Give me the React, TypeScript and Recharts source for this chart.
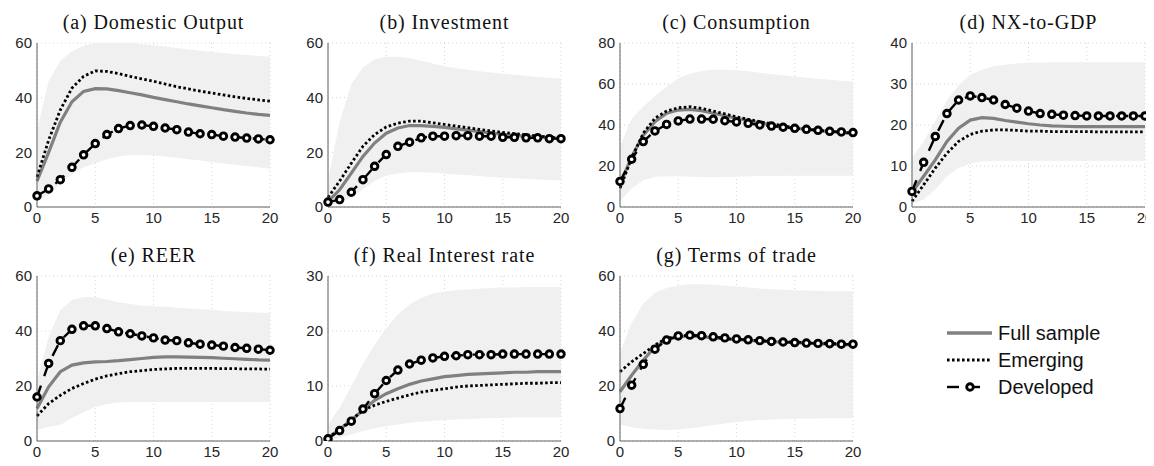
import React from 'react';
import { ComposedChart, Area, Line, XAxis, YAxis, CartesianGrid } from 'recharts';

// horizon 0..20 quarters
const horizon = [0, 1, 2, 3, 4, 5, 6, 7, 8, 9, 10, 11, 12, 13, 14, 15, 16, 17, 18, 19, 20];
const xTicks = [0, 5, 10, 15, 20];

// (a) Domestic Output
const outputFull = [9.5, 20, 31, 38.5, 42.3, 43.3, 43.2, 42.6, 41.8, 41, 40.1, 39.3, 38.5, 37.7, 37, 36.3, 35.6, 35, 34.4, 33.9, 33.5];
const outputEmerging = [11, 24.5, 35.5, 43.5, 47.8, 49.8, 49.6, 48.8, 47.8, 46.9, 46, 45, 44, 43.2, 42.4, 41.7, 41, 40.3, 39.7, 39.2, 38.7];
const outputDeveloped = [4.1, 6.6, 10, 14.5, 19.1, 23.2, 26.5, 28.7, 29.8, 30, 29.5, 28.9, 28.3, 27.4, 26.8, 26.5, 25.9, 25.6, 25.2, 24.9, 24.6];
const outputLow = [2, 4.5, 8.5, 12, 14.5, 16, 17.5, 18.5, 19, 19, 18.8, 18.5, 18, 17.5, 17, 16.5, 16, 15.5, 15, 14.5, 14];
const outputHigh = [28, 46, 53.5, 57, 59, 60, 60.3, 60.3, 60, 59.6, 59.2, 58.7, 58.2, 57.7, 57.2, 56.7, 56.3, 55.9, 55.6, 55.3, 55];

// (b) Investment
const invFull = [2, 6.3, 12.4, 18.5, 23.4, 27, 28.9, 29.8, 29.8, 29.5, 29.1, 28.6, 28.1, 27.6, 27.1, 26.6, 26.2, 25.9, 25.6, 25.3, 25];
const invEmerging = [3.5, 9.5, 16, 22.2, 26.5, 29.3, 30.7, 31.4, 31.4, 30.8, 30.2, 29.6, 29, 28.4, 27.8, 27.3, 26.8, 26.4, 26, 25.6, 25.3];
const invDeveloped = [1.8, 2.7, 5.4, 10, 14.9, 19.2, 22.2, 23.7, 25.3, 25.9, 25.9, 26.1, 26.1, 25.9, 25.9, 25.5, 25.5, 25.3, 25.3, 25, 25];
const invLow = [0.5, 1.5, 3.5, 6.5, 9.5, 11.5, 12.3, 12.7, 12.7, 12.5, 12.2, 11.9, 11.6, 11.3, 11, 10.7, 10.5, 10.3, 10.1, 9.9, 9.7];
const invHigh = [10, 31, 45, 51, 54, 55, 55, 54.5, 53.5, 52.5, 51.5, 50.8, 50.2, 49.7, 49.2, 48.8, 48.4, 48, 47.6, 47.3, 47];

// (c) Consumption
const consFull = [10.9, 24.6, 35, 41.6, 45.7, 47.3, 47.6, 47, 45.7, 44.5, 43.3, 42.2, 41.1, 40.2, 39.3, 38.4, 37.8, 37.3, 36.8, 36.4, 36];
const consEmerging = [9.2, 23.8, 36, 43.3, 46.8, 48.4, 48.9, 48.1, 46.8, 45.4, 44, 42.8, 41.6, 40.6, 39.6, 38.7, 38, 37.4, 36.9, 36.4, 36];
const consDeveloped = [12.5, 23.3, 31.9, 37.1, 40.3, 42, 42.9, 42.9, 42.8, 42.1, 41.5, 40.8, 40, 39.5, 38.9, 38.4, 37.9, 37.4, 36.9, 36.6, 36.3];
const consLow = [2.8, 9, 13, 14.8, 15, 15, 14.8, 14.6, 14.5, 14.6, 14.8, 15, 15.1, 15.1, 15.2, 15.2, 15.2, 15.2, 15.2, 15.2, 15.2];
const consHigh = [29.5, 43, 49, 54, 58.6, 62.7, 65, 66.4, 67, 67, 66.7, 66.2, 65.5, 64.9, 64.3, 63.7, 63.1, 62.6, 62.1, 61.6, 61.2];

// (d) NX-to-GDP
const nxFull = [3.6, 7.5, 11.5, 16, 19.2, 21.2, 21.8, 21.6, 21.1, 20.7, 20.3, 20, 19.8, 19.7, 19.6, 19.6, 19.6, 19.6, 19.6, 19.6, 19.6];
const nxEmerging = [1.4, 5.4, 9.5, 13.1, 16, 17.7, 18.5, 18.8, 18.8, 18.7, 18.5, 18.5, 18.4, 18.4, 18.4, 18.4, 18.3, 18.3, 18.3, 18.3, 18.3];
const nxDeveloped = [3.8, 10.9, 17.2, 22.8, 26.1, 27.1, 26.7, 26.1, 25, 24.1, 23.4, 22.8, 22.6, 22.4, 22.3, 22.2, 22.2, 22.2, 22.2, 22.2, 22.2];
const nxLow = [0.8, 1.8, 4.2, 7.5, 9.5, 10.7, 11.1, 11.2, 11.2, 11.2, 11.2, 11.2, 11.2, 11.2, 11.2, 11.2, 11.2, 11.2, 11.2, 11.2, 11.2];
const nxHigh = [12, 16, 21, 26, 29.7, 32.2, 33.5, 34.3, 34.7, 35, 35.2, 35.2, 35.3, 35.3, 35.3, 35.3, 35.3, 35.3, 35.3, 35.3, 35.3];

// (e) REER
const reerFull = [11.8, 19.7, 25.2, 27.6, 28.4, 28.8, 28.9, 29.2, 29.6, 30, 30.4, 30.6, 30.6, 30.5, 30.4, 30.3, 30.1, 29.9, 29.7, 29.5, 29.4];
const reerEmerging = [9.1, 13.6, 16.6, 19.1, 20.9, 22.5, 23.7, 24.5, 25.2, 25.6, 26, 26.2, 26.4, 26.4, 26.4, 26.4, 26.3, 26.3, 26.2, 26.2, 26.1];
const reerDeveloped = [16, 28.2, 36.5, 40.6, 41.9, 41.9, 40.9, 39.7, 39, 38.2, 37.5, 36.7, 36.5, 35.7, 35.2, 34.9, 34.5, 34, 33.7, 33.4, 33];
const reerLow = [4, 5.2, 5.8, 8.4, 10.5, 12.4, 13.5, 14, 14.2, 14.2, 14.2, 14.2, 14.2, 14.2, 14.2, 14.2, 14.2, 14.2, 14.2, 14.2, 14.2];
const reerHigh = [22, 37.8, 47.6, 51.3, 52.4, 52.3, 51.5, 50.5, 49.8, 49.3, 49, 48.8, 48.5, 48.2, 47.9, 47.6, 47.3, 47.1, 46.9, 46.7, 46.5];

// (f) Real Interest rate
const rateFull = [0.6, 2.1, 3.8, 5.6, 7.4, 8.6, 9.5, 10.3, 10.9, 11.3, 11.7, 11.9, 12.1, 12.2, 12.3, 12.4, 12.5, 12.5, 12.6, 12.6, 12.6];
const rateEmerging = [0.6, 2.1, 3.8, 5.6, 6.5, 7.2, 7.8, 8.4, 8.9, 9.2, 9.5, 9.8, 10, 10.1, 10.2, 10.3, 10.4, 10.5, 10.5, 10.6, 10.6];
const rateDeveloped = [0.4, 1.9, 3.6, 5.8, 8.6, 11, 12.9, 14, 14.7, 15.1, 15.4, 15.5, 15.7, 15.7, 15.7, 15.8, 15.8, 15.8, 15.8, 15.8, 15.8];
const rateLow = [0, 0.6, 1.2, 1.8, 2.3, 2.7, 3, 3.3, 3.5, 3.7, 3.8, 3.9, 4, 4.1, 4.2, 4.2, 4.3, 4.3, 4.3, 4.3, 4.3];
const rateHigh = [3, 6, 10, 14, 17.5, 20.5, 23, 24.8, 26, 26.8, 27.2, 27.4, 27.6, 27.7, 27.8, 27.9, 27.9, 28, 28, 28, 28];

// (g) Terms of trade
const totFull = [17.9, 23.9, 29.4, 34.3, 36.7, 37.9, 38.2, 37.9, 37.5, 37.2, 36.9, 36.6, 36.3, 36.1, 35.9, 35.8, 35.6, 35.4, 35.2, 35, 34.9];
const totEmerging = [25.2, 28.8, 31.8, 34.9, 37.3, 38.2, 38.4, 38.2, 37.7, 37.3, 36.9, 36.7, 36.5, 36.3, 36.1, 36, 35.8, 35.6, 35.5, 35.3, 35.2];
const totDeveloped = [11.8, 20.3, 27.9, 33.4, 36.7, 38.2, 38.5, 38.3, 37.9, 37.5, 37.1, 36.8, 36.5, 36.2, 36, 35.8, 35.6, 35.5, 35.4, 35.2, 35.2];
const totLow = [6, 5, 4.5, 4.2, 4, 4.2, 4.6, 5.2, 5.8, 6.4, 6.9, 7.3, 7.6, 7.8, 8, 8.1, 8.2, 8.2, 8.3, 8.3, 8.3];
const totHigh = [32, 43, 50, 53.8, 55.6, 56.5, 57, 57, 56.8, 56.5, 56.2, 55.8, 55.5, 55.2, 55, 54.8, 54.7, 54.6, 54.5, 54.5, 54.5];

const legendLabels = ['Full sample', 'Emerging', 'Developed'];

const GRAY = '#808080';
const AXIS = '#606060';
const TICK = '#262626';
const BAND = '#f0f0f0';
const SANS = '"Liberation Sans", Arial, sans-serif';

const PLOT_W = 233;
const Y_W = 37;
const TOP = 10;
const X_H = 24;
const RIGHT = 9;

const buildRows = (full: number[], em: number[], dev: number[], low: number[], high: number[]) =>
  horizon.map((h, i) => ({ h, full: full[i], emerging: em[i], developed: dev[i], band: [low[i], high[i]] }));

const panels = [
  { title: '(a) Domestic Output', max: 60, ticks: [0, 20, 40, 60], rows: buildRows(outputFull, outputEmerging, outputDeveloped, outputLow, outputHigh), left: 37, top: 43, h: 164 },
  { title: '(b) Investment', max: 60, ticks: [0, 20, 40, 60], rows: buildRows(invFull, invEmerging, invDeveloped, invLow, invHigh), left: 328, top: 43, h: 164 },
  { title: '(c) Consumption', max: 80, ticks: [0, 20, 40, 60, 80], rows: buildRows(consFull, consEmerging, consDeveloped, consLow, consHigh), left: 620, top: 43, h: 164 },
  { title: '(d) NX-to-GDP', max: 40, ticks: [0, 10, 20, 30, 40], rows: buildRows(nxFull, nxEmerging, nxDeveloped, nxLow, nxHigh), left: 912, top: 43, h: 164 },
  { title: '(e) REER', max: 60, ticks: [0, 20, 40, 60], rows: buildRows(reerFull, reerEmerging, reerDeveloped, reerLow, reerHigh), left: 37, top: 276, h: 165 },
  { title: '(f) Real Interest rate', max: 30, ticks: [0, 10, 20, 30], rows: buildRows(rateFull, rateEmerging, rateDeveloped, rateLow, rateHigh), left: 328, top: 276, h: 165 },
  { title: '(g) Terms of trade', max: 60, ticks: [0, 20, 40, 60], rows: buildRows(totFull, totEmerging, totDeveloped, totLow, totHigh), left: 620, top: 276, h: 165 },
];

const Panel = ({ p }: { p: typeof panels[number] }) => {
  const width = Y_W + PLOT_W + RIGHT;
  const height = TOP + p.h + X_H;
  return (
    <>
      <div
        style={{
          position: 'absolute',
          left: p.left - 8,
          top: p.top - 8 - 34,
          width: PLOT_W,
          textAlign: 'center',
          fontFamily: '"Liberation Serif", serif',
          fontSize: 20,
          letterSpacing: 0.9,
          lineHeight: '26px',
          color: '#111',
          whiteSpace: 'nowrap',
        }}
      >
        {p.title}
      </div>
      <div style={{ position: 'absolute', left: p.left - 8 - Y_W, top: p.top - 8 - TOP }}>
        <ComposedChart
          width={width}
          height={height}
          data={p.rows}
          margin={{ top: TOP, right: RIGHT, bottom: 0, left: 0 }}
          style={{ overflow: 'visible' }}
        >
          <CartesianGrid stroke="#d4d4d4" strokeDasharray="1 3" />
          <XAxis
            dataKey="h"
            type="number"
            domain={[0, 20]}
            ticks={xTicks}
            height={X_H}
            tickLine={false}
            tickSize={3}
            tickMargin={2}
            stroke={AXIS}
            tick={{ fill: TICK, fontSize: 15, fontFamily: SANS }}
            interval={0}
          />
          <YAxis
            type="number"
            domain={[0, p.max]}
            ticks={p.ticks}
            width={Y_W}
            tickLine={false}
            tickSize={3}
            tickMargin={2}
            stroke={AXIS}
            allowDataOverflow
            tick={{ fill: TICK, fontSize: 15, fontFamily: SANS }}
            interval={0}
          />
          <Area dataKey="band" type="linear" fill={BAND} fillOpacity={1} stroke="none" isAnimationActive={false} />
          <Line dataKey="full" type="linear" stroke={GRAY} strokeWidth={3.2} dot={false} isAnimationActive={false} />
          <Line dataKey="emerging" type="linear" stroke="#000" strokeWidth={2.8} strokeDasharray="2.6 2.4" dot={false} isAnimationActive={false} />
          <Line
            dataKey="developed"
            type="linear"
            stroke="#000"
            strokeWidth={2.4}
            strokeDasharray="12 10"
            dot={{ r: 3.3, stroke: '#000', strokeWidth: 2.9, fill: '#fff', strokeDasharray: '' }}
            isAnimationActive={false}
          />
        </ComposedChart>
      </div>
    </>
  );
};

const Legend = () => (
  <svg style={{ position: 'absolute', left: 940 - 8, top: 318 - 8 }} width={200} height={84}>
    <line x1={7} x2={52} y1={15} y2={15} stroke={GRAY} strokeWidth={3.5} />
    <line x1={7} x2={52} y1={42} y2={42} stroke="#000" strokeWidth={2.8} strokeDasharray="2.6 2.4" />
    <line x1={7} x2={19} y1={69} y2={69} stroke="#000" strokeWidth={2.4} />
    <line x1={27} x2={40} y1={69} y2={69} stroke="#000" strokeWidth={2.4} />
    <circle cx={30} cy={69} r={3.3} stroke="#000" strokeWidth={2.9} fill="#fff" />
    {legendLabels.map((t, i) => (
      <text key={t} x={58} y={15 + i * 27} dy="0.36em" fontSize={20} fontFamily={SANS} fill="#111">
        {t}
      </text>
    ))}
  </svg>
);

export default function App() {
  return (
    <div style={{ position: 'relative', width: 1146, height: 450, background: '#fff' }}>
      {panels.map((p) => (
        <Panel key={p.title} p={p} />
      ))}
      <Legend />
    </div>
  );
}
